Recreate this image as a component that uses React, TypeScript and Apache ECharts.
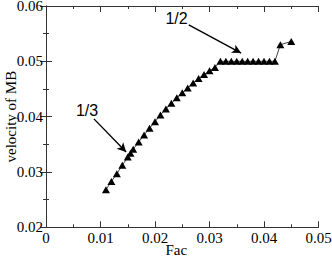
import React, { useEffect, useRef } from "react";
import * as echarts from "echarts";

const facValues = [
  0.011, 0.012, 0.013, 0.014, 0.015, 0.0155, 0.016, 0.017, 0.018, 0.019, 0.02,
  0.021, 0.022, 0.023, 0.024, 0.025, 0.026, 0.027, 0.028, 0.029, 0.03, 0.031,
  0.032, 0.033, 0.034, 0.035, 0.036, 0.037, 0.038, 0.039, 0.04, 0.041, 0.042,
  0.043, 0.045,
];
const velocityValues = [
  0.0268, 0.0283, 0.0297, 0.0312, 0.0327, 0.0334, 0.0341, 0.0354, 0.0367, 0.0379, 0.0391,
  0.0403, 0.0414, 0.0424, 0.0434, 0.0443, 0.0452, 0.0461, 0.0469, 0.0476, 0.0483, 0.0489,
  0.05, 0.05, 0.05, 0.05, 0.05, 0.05, 0.05, 0.05, 0.05, 0.05, 0.05,
  0.053, 0.0536,
];
const annotationLabels = ["1/3", "1/2"];
const arrowThird = [[0.0088, 0.0396], [0.0147, 0.0336]];
const arrowHalf = [[0.0262, 0.0566], [0.0358, 0.0515]];

export default function App() {
  const ref = useRef<HTMLDivElement>(null);
  useEffect(() => {
    if (!ref.current) return;
    const chart = echarts.init(ref.current, null, { renderer: "svg" });
    const serif = "Liberation Serif";
    const sans = "Liberation Sans";
    const axisColor = "#333";
    const labelStyle = { fontFamily: serif, fontSize: 15, color: "#000" };
    const baseX = {
      type: "value" as const,
      min: 0,
      max: 0.05,
      interval: 0.01,
      axisLine: { show: true, lineStyle: { color: axisColor, width: 1 } },
      axisTick: { show: true, inside: true, length: 6, lineStyle: { color: axisColor } },
      minorTick: { show: true, splitNumber: 2, length: 3, lineStyle: { color: axisColor } },
      splitLine: { show: false },
      minorSplitLine: { show: false },
    };
    const baseY = {
      type: "value" as const,
      min: 0.02,
      max: 0.06,
      interval: 0.01,
      axisLine: { show: true, lineStyle: { color: axisColor, width: 1 } },
      axisTick: { show: true, inside: true, length: 6, lineStyle: { color: axisColor } },
      minorTick: { show: true, splitNumber: 2, length: 3, lineStyle: { color: axisColor } },
      splitLine: { show: false },
      minorSplitLine: { show: false },
    };
    chart.setOption({
      animation: false,
      textStyle: { fontFamily: serif },
      grid: {
        left: 46,
        right: 13.5,
        top: 6,
        bottom: 30.7,
        containLabel: false,
        outerBoundsMode: "none",
      },
      xAxis: [
        {
          ...baseX,
          position: "bottom",
          name: "Fac",
          nameLocation: "middle",
          nameGap: 15,
          nameMoveOverlap: false,
          nameTextStyle: { ...labelStyle, padding: [0, 12, 0, 0] },
          axisLabel: { ...labelStyle, margin: 3 },
        },
        { ...baseX, position: "top", axisLabel: { show: false } },
      ],
      yAxis: [
        {
          ...baseY,
          position: "left",
          name: "velocity of MB",
          nameLocation: "middle",
          nameGap: 28,
          nameMoveOverlap: false,
          nameTextStyle: { ...labelStyle },
          axisLabel: { ...labelStyle, margin: 3, lineHeight: 15, padding: [3, 0, 0, 0] },
        },
        { ...baseY, position: "right", axisLabel: { show: false } },
      ],
      series: [
        {
          type: "line",
          data: facValues.map((f, i) => [f, velocityValues[i]]),
          symbol: "triangle",
          symbolSize: [8, 7],
          itemStyle: { color: "#000" },
          lineStyle: { color: "#444", width: 1 },
          markLine: {
            silent: true,
            symbol: ["none", "arrow"],
            symbolSize: [7, 9],
            label: { show: false },
            lineStyle: { color: "#000", width: 1.4, type: "solid" },
            data: [
              [{ coord: arrowThird[0] }, { coord: arrowThird[1] }],
              [{ coord: arrowHalf[0] }, { coord: arrowHalf[1] }],
            ],
          },
        },
      ],
      graphic: [
        {
          type: "text",
          x: 87,
          y: 110,
          style: {
            text: annotationLabels[0],
            fontFamily: sans,
            fontSize: 16,
            fill: "#000",
            align: "center",
            verticalAlign: "middle",
          },
        },
        {
          type: "text",
          x: 176.5,
          y: 18.5,
          style: {
            text: annotationLabels[1],
            fontFamily: sans,
            fontSize: 16,
            fill: "#000",
            align: "center",
            verticalAlign: "middle",
          },
        },
      ],
    });
    return () => chart.dispose();
  }, []);
  return (
    <div
      ref={ref}
      style={{ position: "fixed", left: 0, top: 0, width: 332, height: 258, background: "#fff" }}
    />
  );
}
